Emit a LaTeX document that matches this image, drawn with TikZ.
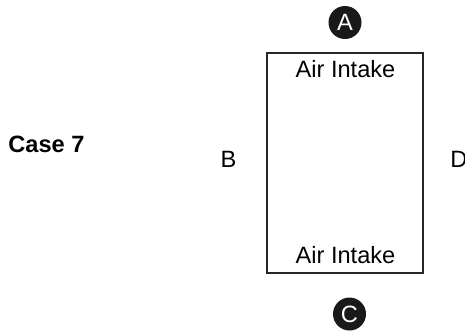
\documentclass[tikz,border=0pt]{standalone}
\usepackage{fontspec}
\setmainfont{Liberation Sans}

\begin{document}
\begin{tikzpicture}[x=0.5pt, y=-0.5pt,
    every node/.style={font=\fontsize{11.8}{14}\selectfont, inner sep=0pt},
    sidemark/.style={circle, fill=black!90, text=white, minimum size=16.5pt}]
    % Frame of the page
    \useasboundingbox (0, 0) rectangle (465, 333);

    % Title on the left
    \node[anchor=base west, font=\fontsize{11.8}{14}\selectfont\bfseries] (title) at (8, 152) {Case 7};

    % The room with its two intakes
    \draw[line width=1pt, black!85] (267, 53) rectangle (423, 273);
    \node[anchor=base] (intaketop) at (345.5, 77) {Air Intake};
    \node[anchor=base] (intakebottom) at (345.5, 263) {Air Intake};

    % Sides marked with circled letters
    \node[sidemark] (sideA) at (345, 22.5) {A};
    \node[sidemark] (sideC) at (349.5, 314) {C};

    % Sides marked with plain letters
    \node[anchor=base] (sideB) at (228.5, 167) {B};
    \node[anchor=base west] (sideD) at (450, 167) {D};
\end{tikzpicture}
\end{document}
